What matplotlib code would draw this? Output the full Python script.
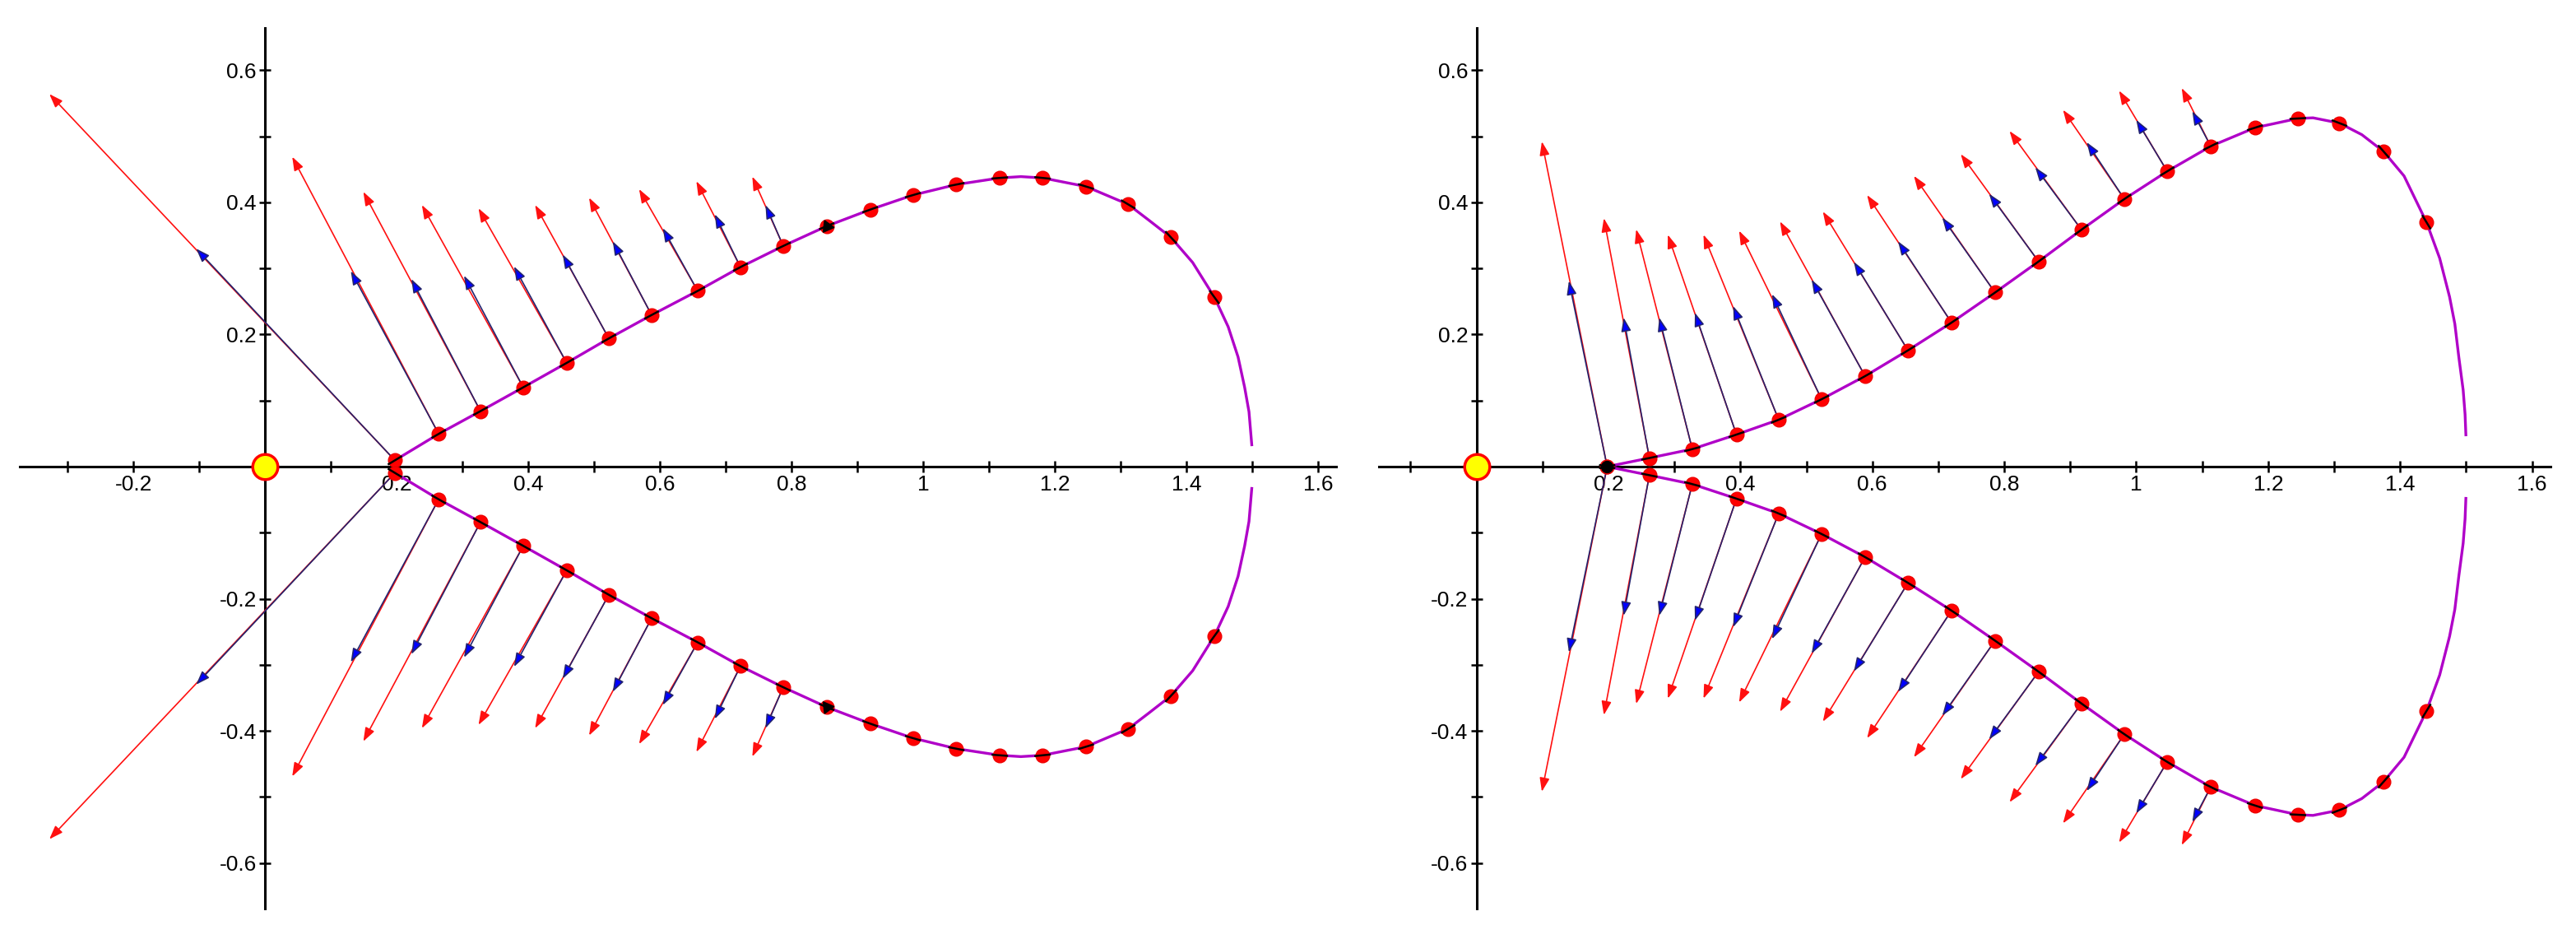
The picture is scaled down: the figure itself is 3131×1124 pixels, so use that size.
import numpy as np
import matplotlib
matplotlib.use("Agg")
import matplotlib.pyplot as plt
from matplotlib.ticker import MultipleLocator, FuncFormatter

plt.rcParams['font.family'] = ['Liberation Sans', 'DejaVu Sans']
plt.rcParams['axes.unicode_minus'] = False

# ---- left panel: points on the upper half of the curve (lower half is the mirror image)
left_dot_x = [0.197, 0.2635, 0.327, 0.392, 0.458, 0.522, 0.587, 0.657, 0.722, 0.787,
              0.853, 0.919, 0.984, 1.05, 1.116, 1.181, 1.247, 1.311, 1.376, 1.442]
left_dot_y = [0.0095, 0.0495, 0.084, 0.12, 0.157, 0.194, 0.2295, 0.266, 0.302, 0.334,
              0.364, 0.389, 0.411, 0.427, 0.437, 0.437, 0.424, 0.397, 0.347, 0.2565]
# extra points read along the line where there are no dots
left_line_x = [1.148, 1.3425, 1.409, 1.463, 1.478, 1.488, 1.4946, 1.499]
left_line_y = [0.439, 0.373, 0.309, 0.2117, 0.166, 0.12, 0.083, 0.031]

# arrow tips for the first ten dots
left_blue_x = [-0.105, 0.130, 0.222, 0.302, 0.378, 0.452, 0.528, 0.604, 0.683, 0.76]
left_blue_y = [0.33, 0.296, 0.284, 0.289, 0.303, 0.321, 0.341, 0.361, 0.382, 0.396]
left_red_x = [-0.328, 0.041, 0.149, 0.238, 0.324, 0.41, 0.492, 0.568, 0.655, 0.74]
left_red_y = [0.564, 0.469, 0.416, 0.396, 0.391, 0.396, 0.407, 0.42, 0.432, 0.439]

# ---- right panel
right_dot_x = [0.198, 0.262, 0.327, 0.394, 0.458, 0.523, 0.589, 0.654, 0.72, 0.786,
               0.852, 0.917, 0.982, 1.047, 1.113, 1.18, 1.245, 1.308, 1.375, 1.44]
right_dot_y = [0.0, 0.013, 0.0265, 0.0485, 0.071, 0.102, 0.137, 0.176, 0.218, 0.2635,
               0.3105, 0.3586, 0.405, 0.447, 0.485, 0.513, 0.527, 0.52, 0.477, 0.37]
right_line_x = [1.268, 1.342, 1.406, 1.46, 1.475, 1.483, 1.489, 1.4956, 1.4985, 1.4998]
right_line_y = [0.528, 0.5025, 0.44, 0.3155, 0.257, 0.216, 0.166, 0.116, 0.079, 0.046]

right_blue_x = [0.140, 0.223, 0.277, 0.331, 0.389, 0.448, 0.508, 0.572, 0.639, 0.706,
                0.777, 0.847, 0.925, 1.0, 1.085]
right_blue_y = [0.281, 0.2255, 0.2255, 0.233, 0.243, 0.261, 0.283, 0.31, 0.341, 0.377,
                0.413, 0.453, 0.491, 0.525, 0.538]
right_red_x = [0.099, 0.193, 0.242, 0.29, 0.344, 0.398, 0.46, 0.525, 0.592, 0.663,
               0.734, 0.808, 0.889, 0.974, 1.069]
right_red_y = [0.492, 0.376, 0.359, 0.351, 0.351, 0.357, 0.371, 0.386, 0.411, 0.44,
               0.473, 0.508, 0.54, 0.569, 0.573]

CURVE = '#b000c8'
RED = '#ff1010'
NAVY = '#24246e'
BLUE = '#0000ff'


def setup_axes(ax, xlim, ylim):
    ax.set_xlim(*xlim)
    ax.set_ylim(*ylim)
    for s in ['top', 'right']:
        ax.spines[s].set_visible(False)
    for s in ['left', 'bottom']:
        ax.spines[s].set_position('zero')
        ax.spines[s].set_linewidth(2.2)
    fmt = FuncFormatter(lambda v, p: '' if abs(v) < 1e-9 else f'{v:g}')
    for axis in [ax.xaxis, ax.yaxis]:
        axis.set_major_locator(MultipleLocator(0.2))
        axis.set_minor_locator(MultipleLocator(0.1))
        axis.set_major_formatter(fmt)
    ax.tick_params(which='both', direction='inout', length=10, width=1.8,
                   labelsize=19, pad=2.5)
    ax.patch.set_visible(False)


def arrow(ax, x0, y0, x1, y1, line, head):
    ax.annotate('', xy=(x1, y1), xytext=(x0, y0), zorder=4, annotation_clip=False,
                arrowprops=dict(arrowstyle='-|>,head_length=0.5,head_width=0.18',
                                mutation_scale=20, ec=line, fc=head, lw=1.2,
                                shrinkA=0, shrinkB=0))


def draw_half(ax, dx, dy, lx, ly, bx, by, rx, ry, sign):
    dx = np.array(dx)
    dy = np.array(dy) * sign
    cx = np.concatenate([dx, lx])
    cy = np.concatenate([dy, np.array(ly) * sign])
    order = np.argsort(cx)
    ax.plot(cx[order], cy[order], color=CURVE, lw=2.4, zorder=3, solid_capstyle='butt')
    # arrows: red (long) first, blue on top
    for i in range(len(bx)):
        arrow(ax, dx[i], dy[i], rx[i], ry[i] * sign, RED, RED)
    for i in range(len(bx)):
        arrow(ax, dx[i], dy[i], bx[i], by[i] * sign, NAVY, BLUE)
    ax.plot(dx, dy, 'o', color='#ff0000', ms=12, mec='#ee0000', zorder=5)
    # small black tangent dash through each dot
    tx = np.gradient(dx)
    ty = np.gradient(dy)
    n = np.hypot(tx, ty)
    tx, ty = tx / n * 0.011, ty / n * 0.011
    for i in range(len(dx)):
        ax.plot([dx[i] - tx[i], dx[i] + tx[i]], [dy[i] - ty[i], dy[i] + ty[i]],
                color='black', lw=1.8, zorder=6)


fig = plt.figure(figsize=(31.31, 11.24), dpi=100)
ax1 = fig.add_axes([24 / 3131, 20 / 1124, 1600 / 3131, 1070 / 1124])
ax2 = fig.add_axes([1676 / 3131, 20 / 1124, 1424 / 3131, 1070 / 1124])
setup_axes(ax1, (-0.373, 1.627), (-0.669, 0.664))
setup_axes(ax2, (-0.148, 1.628), (-0.669, 0.664))

for sign in [1, -1]:
    draw_half(ax1, left_dot_x, left_dot_y, left_line_x, left_line_y,
              left_blue_x, left_blue_y, left_red_x, left_red_y, sign)
    draw_half(ax2, right_dot_x, right_dot_y, right_line_x, right_line_y,
              right_blue_x, right_blue_y, right_red_x, right_red_y, sign)
    # black arrow head without a shaft on the left panel, at the dot after the arrows
    k = len(left_blue_x)
    vx = left_blue_x[k - 1] - left_dot_x[k - 1]
    vy = (left_blue_y[k - 1] - left_dot_y[k - 1]) * sign
    ang = np.degrees(np.arctan2(vy, vx)) - 90
    ax1.plot([left_dot_x[k]], [left_dot_y[k] * sign], marker=(3, 0, ang), ms=12,
             color='black', zorder=7)

ax2.plot([right_dot_x[0]], [right_dot_y[0]], 'o', color='black', ms=10, zorder=7)

for ax in [ax1, ax2]:
    ax.plot([0], [0], 'o', ms=22, mfc='#ffff00', mec='#ff0000', mew=2.5, zorder=8)

fig.savefig('out.png', dpi=100)
